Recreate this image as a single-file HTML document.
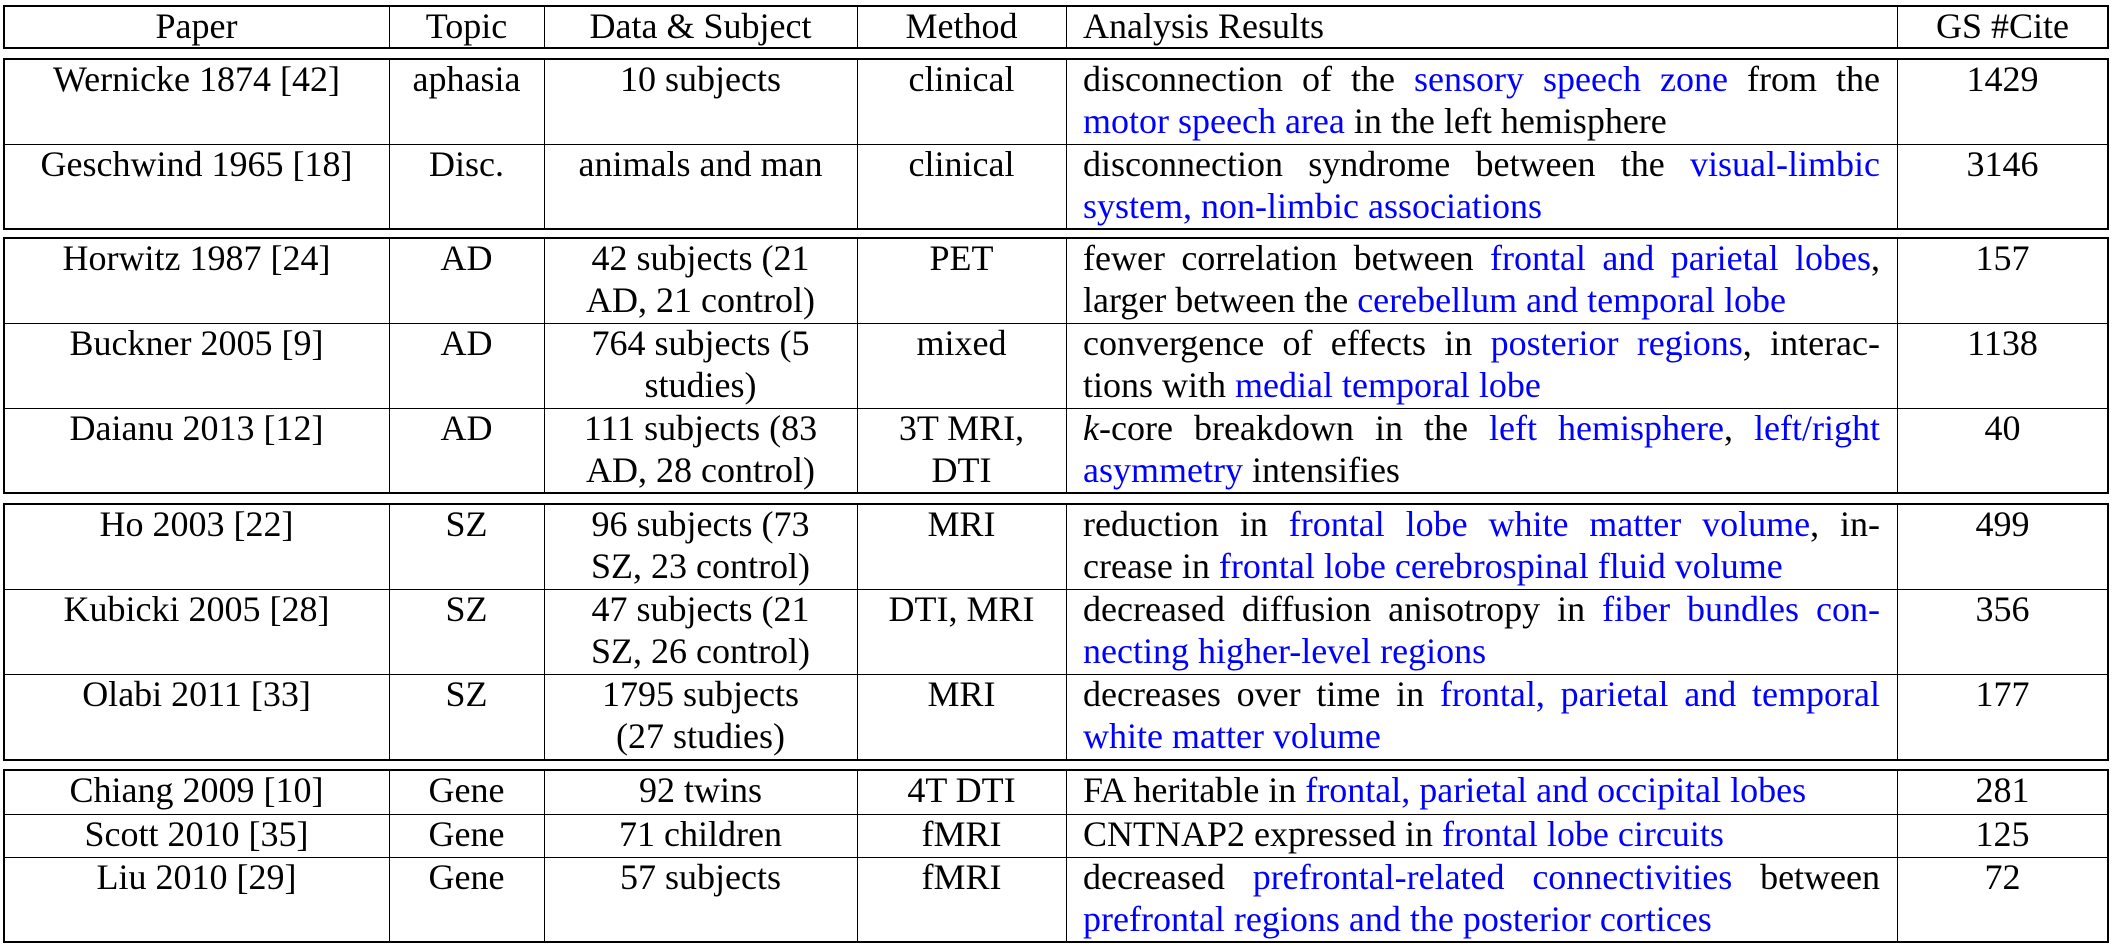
<!DOCTYPE html>
<html><head><meta charset="utf-8">
<style>
body{margin:0;background:#fff;width:2114px;height:946px;overflow:hidden;position:relative;font-family:"Liberation Serif","Times New Roman",Times,"Noto Serif CJK SC","DejaVu Serif",serif;font-size:36px;color:#000}
.c{position:absolute;line-height:42px;white-space:nowrap;box-sizing:border-box;font-family:"Liberation Serif","Times New Roman",Times,"Noto Serif CJK SC","DejaVu Serif",serif}
.ctr{text-align:center}
.j{text-align:justify;text-align-last:justify;white-space:normal}
.b{color:#0000ff}
.hl{position:absolute;background:#000;height:1px}
.vl{position:absolute;background:#000;width:1px}
.box{position:absolute;border:2px solid #000;box-sizing:border-box}
</style></head><body>
<div id="t"></div>
<script>
const cols=[4,389,544,857,1066,1897,2108];
const headers=["Paper","Topic","Data & Subject","Method","Analysis Results","GS #Cite"];
const groups=[
 {top:6,rows:[42]},
 {top:59,rows:[85,85]},
 {top:238,rows:[85,85,85]},
 {top:504,rows:[85,85,86]},
 {top:770,rows:[44,43,85]}
];
const papers=["Wernicke 1874 [42]","Geschwind 1965 [18]","Horwitz 1987 [24]","Buckner 2005 [9]","Daianu 2013 [12]","Ho 2003 [22]","Kubicki 2005 [28]","Olabi 2011 [33]","Chiang 2009 [10]","Scott 2010 [35]","Liu 2010 [29]"];
const topics=["aphasia","Disc.","AD","AD","AD","SZ","SZ","SZ","Gene","Gene","Gene"];
const data=[["10 subjects"],["animals and man"],["42 subjects (21","AD, 21 control)"],["764 subjects (5","studies)"],["111 subjects (83","AD, 28 control)"],["96 subjects (73","SZ, 23 control)"],["47 subjects (21","SZ, 26 control)"],["1795 subjects","(27 studies)"],["92 twins"],["71 children"],["57 subjects"]];
const methods=[["clinical"],["clinical"],["PET"],["mixed"],["3T MRI,","DTI"],["MRI"],["DTI, MRI"],["MRI"],["4T DTI"],["fMRI"],["fMRI"]];
const cites=["1429","3146","157","1138","40","499","356","177","281","125","72"];
const results=[
 ['disconnection of the <span class="b">sensory speech zone</span> from the','<span class="b">motor speech area</span> in the left hemisphere'],
 ['disconnection syndrome between the <span class="b">visual-limbic</span>','<span class="b">system, non-limbic associations</span>'],
 ['fewer correlation between <span class="b">frontal and parietal lobes</span>,','larger between the <span class="b">cerebellum and temporal lobe</span>'],
 ['convergence of effects in <span class="b">posterior regions</span>, interac-','tions with <span class="b">medial temporal lobe</span>'],
 ['<i>k</i>-core breakdown in the <span class="b">left hemisphere</span>, <span class="b">left/right</span>','<span class="b">asymmetry</span> intensifies'],
 ['reduction in <span class="b">frontal lobe white matter volume</span>, in-','crease in <span class="b">frontal lobe cerebrospinal fluid volume</span>'],
 ['decreased diffusion anisotropy in <span class="b">fiber bundles con-</span>','<span class="b">necting higher-level regions</span>'],
 ['decreases over time in <span class="b">frontal, parietal and temporal</span>','<span class="b">white matter volume</span>'],
 ['FA heritable in <span class="b">frontal, parietal and occipital lobes</span>'],
 ['CNTNAP2 expressed in <span class="b">frontal lobe circuits</span>'],
 ['decreased <span class="b">prefrontal-related connectivities</span> between','<span class="b">prefrontal regions and the posterior cortices</span>']
];
const root=document.getElementById('t');
function cell(x0,x1,y,lines,cls,name){
  lines.forEach((ln,i)=>{
    const d=document.createElement('div');
    
    
    d.className='c '+cls;
    d.style.left=x0+'px';d.style.width=(x1-x0)+'px';
    d.style.top=(y-1+i*42)+'px';
    d.style.padding='0 17px';
    d.innerHTML=ln;
    root.appendChild(d);
  });
}
let r=0;
groups.forEach((g,gi)=>{
  const h=g.rows.reduce((a,b)=>a+b,0);
  const box=document.createElement('div');
  
  
  box.className='box';
  box.style.left=(cols[0]-1)+'px';box.style.top=(g.top-1)+'px';
  box.style.width=(cols[6]-cols[0]+2)+'px';box.style.height=(h+2)+'px';
  root.appendChild(box);
  for(let k=1;k<6;k++){
    const v=document.createElement('div');
    
    
    v.className='vl';v.style.left=cols[k]+'px';v.style.top=g.top+'px';v.style.height=h+'px';
    root.appendChild(v);
  }
  let y=g.top;
  g.rows.forEach((rh,ri)=>{
    if(ri>0){
      const l=document.createElement('div');
      
      
      l.className='hl';l.style.left=cols[0]+'px';l.style.width=(cols[6]-cols[0])+'px';l.style.top=y+'px';
      root.appendChild(l);
    }
    if(gi===0){
      headers.forEach((t,k)=>cell(cols[k],cols[k+1],y,[t],k===4?'':'ctr','header-cell'));
    } else {
      cell(cols[0],cols[1],y,[papers[r]],'ctr','paper-cell');
      cell(cols[1],cols[2],y,[topics[r]],'ctr','topic-cell');
      cell(cols[2],cols[3],y,data[r],'ctr','data-subject-cell');
      cell(cols[3],cols[4],y,methods[r],'ctr','method-cell');
      const res=results[r];
      res.forEach((ln,i)=>{
        cell(cols[4],cols[5],y+i*42,[ln],(i<res.length-1)?'j':'','analysis-result-cell');
      });
      cell(cols[5],cols[6],y,[cites[r]],'ctr','citation-count-cell');
      r++;
    }
    y+=rh;
  });
});
</script>
</body></html>
